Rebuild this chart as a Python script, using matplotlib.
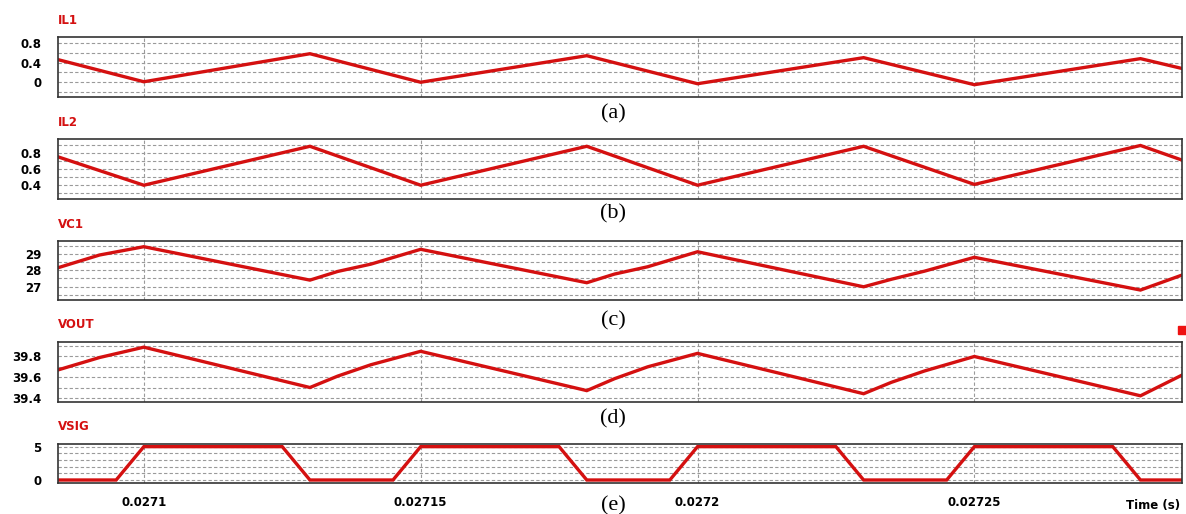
import matplotlib
matplotlib.use("Agg")
import matplotlib.pyplot as plt
from matplotlib.patches import Rectangle

# waveform data (time in s)
t_tri = [0.0270845, 0.0271, 0.02713, 0.02715, 0.02718, 0.0272, 0.02723, 0.02725, 0.02728, 0.0272875]
il1 = [0.46, 0.01, 0.58, 0.0, 0.54, -0.03, 0.50, -0.05, 0.48, 0.28]
il2 = [0.75, 0.40, 0.88, 0.40, 0.88, 0.40, 0.88, 0.41, 0.89, 0.71]

t_cap = [0.0270845, 0.027092, 0.0271, 0.02713, 0.027135, 0.027141, 0.02715,
         0.02718, 0.027185, 0.027191, 0.0272, 0.02723, 0.027235, 0.027241,
         0.02725, 0.02728, 0.0272875]
vc1 = [28.16, 28.94, 29.45, 27.40, 27.93, 28.38, 29.29,
       27.24, 27.77, 28.22, 29.14, 26.99, 27.45, 27.95,
       28.80, 26.79, 27.71]
vout = [39.67, 39.79, 39.89, 39.50, 39.61, 39.72, 39.85,
        39.47, 39.585, 39.70, 39.83, 39.44, 39.55, 39.66,
        39.80, 39.42, 39.62]

t_sig = [0.0270845, 0.027095, 0.0271, 0.027125, 0.02713, 0.027145, 0.02715, 0.027175,
         0.02718, 0.027195, 0.0272, 0.027225, 0.02723, 0.027245, 0.02725, 0.027275,
         0.02728, 0.0272875]
vsig = [0, 0, 5, 5, 0, 0, 5, 5, 0, 0, 5, 5, 0, 0, 5, 5, 0, 0]

x_ticks = [0.0271, 0.02715, 0.0272, 0.02725]
x_labels = ["0.0271", "0.02715", "0.0272", "0.02725"]

panels = [
    ("IL1", t_tri, il1, (-0.30, 0.92), [0, 0.4, 0.8], ["0", "0.4", "0.8"],
     [-0.2, 0.2, 0.6], "(a)"),
    ("IL2", t_tri, il2, (0.23, 0.97), [0.4, 0.6, 0.8], ["0.4", "0.6", "0.8"],
     [0.3, 0.5, 0.7, 0.9], "(b)"),
    ("VC1", t_cap, vc1, (26.18, 29.80), [27, 28, 29], ["27", "28", "29"],
     [26.5, 27.5, 28.5, 29.5], "(c)"),
    ("VOUT", t_cap, vout, (39.36, 39.94), [39.4, 39.6, 39.8], ["39.4", "39.6", "39.8"],
     [39.5, 39.7, 39.9], "(d)"),
    ("VSIG", t_sig, vsig, (-0.45, 5.4), [0, 5], ["0", "5"],
     [1, 2, 3, 4], "(e)"),
]

# pixel boxes (top, bottom) of each panel
boxes = [(37, 97), (139, 199), (241, 300), (342, 402), (444, 483)]
cap_y = [114, 214, 321, 419, 506]

W, H = 1186, 514
fig = plt.figure(figsize=(W / 100, H / 100), dpi=100)
red = "#d41010"
left, right = 58, 1182
font = dict(fontfamily="DejaVu Sans", fontweight="bold", fontsize=8.5)

for i, (name, t, v, ylim, yt, ylab, grid, cap) in enumerate(panels):
    top, bot = boxes[i]
    ax = fig.add_axes([left / W, 1 - bot / H, (right - left) / W, (bot - top) / H])
    ax.plot(t, v, color=red, lw=2.4, solid_joinstyle="miter")
    ax.set_xlim(0.0270845, 0.0272875)
    ax.set_ylim(*ylim)
    ax.set_yticks(yt)
    ax.set_yticklabels(ylab, **font)
    ax.set_yticks(grid, minor=True)
    ax.set_xticks(x_ticks)
    if i == len(panels) - 1:
        ax.set_xticklabels(x_labels, **font)
    else:
        ax.set_xticklabels([])
    ax.tick_params(which="both", length=0)
    ax.tick_params(axis="y", pad=12)
    ax.tick_params(axis="x", pad=9)
    ax.grid(which="both", axis="y", color="#9a9a9a", lw=0.8, ls=(0, (3, 2)))
    ax.grid(which="major", axis="x", color="#9a9a9a", lw=0.8, ls=(0, (3, 2)))
    for s in ax.spines.values():
        s.set_color("#333333")
        s.set_linewidth(1.2)
    fig.text(left / W, 1 - (top - 17) / H, name, color=red, ha="left", va="center", **font)
    fig.text(613 / W, 1 - cap_y[i] / H, cap, fontfamily="Liberation Serif",
             fontsize=16, ha="center", va="center")

fig.text(1180 / W, 1 - 506 / H, "Time (s)", ha="right", va="center", **font)
fig.add_artist(Rectangle((1178 / W, 1 - 334 / H), 8 / W, 8 / H,
                         transform=fig.transFigure, color="#ee1111"))

fig.savefig("out.png", dpi=100)
